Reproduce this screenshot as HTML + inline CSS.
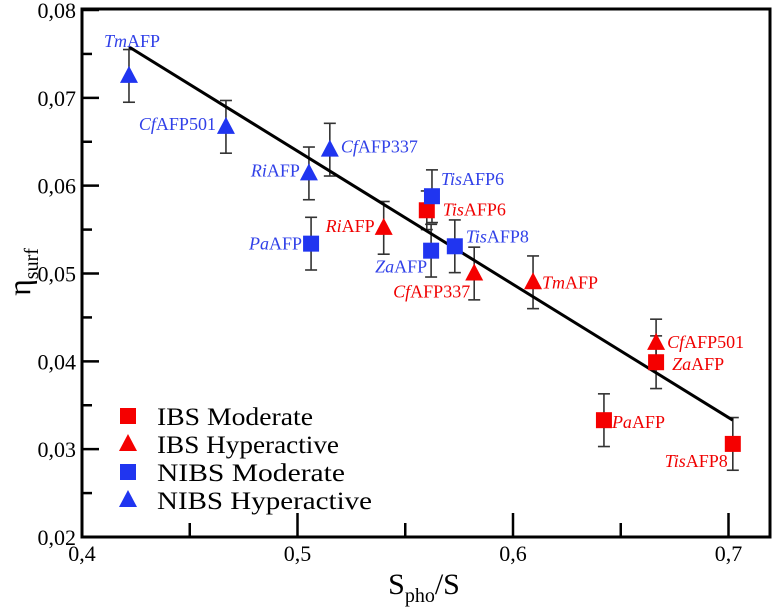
<!DOCTYPE html>
<html><head><meta charset="utf-8"><style>
html,body{margin:0;padding:0;background:#fff;}
svg{display:block;font-family:"Liberation Serif",serif;}
</style></head><body>
<svg id="chart" width="773" height="607" viewBox="0 0 773 607">
<g id="axes"></g>
<g id="marks"></g>
<g id="legend"></g>
</svg>
<script>
const names = ["TmAFP","CfAFP501","CfAFP337","RiAFP","PaAFP","RiAFP","ZaAFP","TisAFP6","TisAFP6","TisAFP8","CfAFP337","TmAFP","CfAFP501","ZaAFP","PaAFP","TisAFP8"];
const prefixes = ["Tm","Cf","Cf","Ri","Pa","Ri","Za","Tis","Tis","Tis","Cf","Tm","Cf","Za","Pa","Tis"];
const groups = ["NIBS Hyperactive","NIBS Hyperactive","NIBS Hyperactive","NIBS Hyperactive","NIBS Moderate","IBS Hyperactive","NIBS Moderate","IBS Moderate","NIBS Moderate","NIBS Moderate","IBS Hyperactive","IBS Hyperactive","IBS Hyperactive","IBS Moderate","IBS Moderate","IBS Moderate"];
const xValues = [0.4218,0.4668,0.515,0.5053,0.5063,0.540,0.562,0.560,0.5624,0.573,0.582,0.6093,0.6664,0.6664,0.6422,0.702];
const yValues = [0.0725,0.0667,0.0641,0.0614,0.0534,0.0552,0.0526,0.0572,0.0588,0.0531,0.0500,0.0490,0.0421,0.0399,0.0333,0.0306];
const yErrors = [0.003,0.003,0.003,0.003,0.003,0.003,0.003,0.0022,0.003,0.003,0.003,0.003,0.0027,0.003,0.003,0.003];
const fitX = [0.4218,0.702];
const fitY = [0.0758,0.0333];
const xTicks = [0.4,0.5,0.6,0.7];
const xTickLabels = ["0,4","0,5","0,6","0,7"];
const yTicks = [0.02,0.03,0.04,0.05,0.06,0.07,0.08];
const yTickLabels = ["0,02","0,03","0,04","0,05","0,06","0,07","0,08"];
const legendLabels = ["IBS Moderate","IBS Hyperactive","NIBS Moderate","NIBS Hyperactive"];
const legendWidths = [156,182,188,215];

const labelPos = [[-25,-29,"start"],[-10,3,"end"],[11,3,"start"],[-9,3,"end"],[-9,6,"end"],[-9,4,"end"],[-4,22,"end"],[16,5,"start"],[9,-11,"start"],[11,-4,"start"],[-4,24,"end"],[9,6,"start"],[11,5,"start"],[16,8,"start"],[8,8,"start"],[-5,23,"end"]];

const L=82,R=770,T=9,B=537;
const xs=v=>82+(v-0.4)*2155;
const ys=v=>537-(v-0.02)*8783;
const NS="http://www.w3.org/2000/svg";
function mk(tag,attrs,parent){const e=document.createElementNS(NS,tag);for(const k in attrs)e.setAttribute(k,attrs[k]);parent.appendChild(e);return e;}
const axes=document.getElementById('axes'),marks=document.getElementById('marks'),legend=document.getElementById('legend');

const frame=mk('rect',{x:L,y:T,width:R-L,height:B-T,fill:'none',stroke:'#000','stroke-width':3},axes);


for(let v=0.4;v<=0.7001;v+=0.05){const x=xs(v);const major=Math.abs(v*10-Math.round(v*10))<1e-6;
 const t=mk('line',{x1:x,x2:x,y1:B,y2:B-(major?24:14),stroke:'#000','stroke-width':2.5},axes);
 
 }
xTicks.forEach((v,i)=>{const t=mk('text',{x:xs(v),y:561,'text-anchor':'middle','font-size':22},axes);t.textContent=xTickLabels[i];
 
 });
for(let k=0;k<=12;k++){const v=0.02+k*0.005;const y=ys(v);const major=k%2==0;
 const t=mk('line',{x1:L,x2:L+(major?17:10),y1:y,y2:y,stroke:'#000','stroke-width':2.5},axes);
 
 }
yTicks.forEach((v,i)=>{const t=mk('text',{x:76,y:ys(v)+8,'text-anchor':'end','font-size':22},axes);t.textContent=yTickLabels[i];
 
 });
const xt=mk('text',{x:424,y:594,'text-anchor':'middle','font-size':30},axes);
xt.innerHTML='S<tspan font-size="20" dy="8">pho</tspan><tspan dy="-8">/S</tspan>';


const yt=mk('text',{transform:'translate(30,272) rotate(-90)','text-anchor':'middle','font-size':32},axes);
yt.innerHTML='η<tspan font-size="20" dy="8">surf</tspan>';



const RED='#f50000',BLUE='#2035f0';
function marker(g,x,y,type,color,parent){
 if(type==='sq') return mk('rect',{x:x-8,y:y-8,width:16,height:16,fill:color},parent);
 return mk('polygon',{points:`${x},${y-10} ${x+9},${y+7} ${x-9},${y+7}`,fill:color},parent);}

xValues.forEach((xv,i)=>{const x=xs(xv),y1=ys(yValues[i]+yErrors[i]),y2=ys(yValues[i]-yErrors[i]);
 const g=mk('g',{stroke:'#333','stroke-width':1.6},marks);
 
 
 mk('line',{x1:x,x2:x,y1:y1,y2:y2},g);mk('line',{x1:x-6,x2:x+6,y1:y1,y2:y1},g);mk('line',{x1:x-6,x2:x+6,y1:y2,y2:y2},g);});
const fl=mk('line',{x1:xs(fitX[0]),y1:ys(fitY[0]),x2:xs(fitX[1]),y2:ys(fitY[1]),stroke:'#000','stroke-width':3},marks);


xValues.forEach((xv,i)=>{const gp=groups[i];const color=gp.startsWith('IBS')?RED:BLUE;const type=gp.endsWith('Moderate')?'sq':'tri';
 const x=xs(xv),y=ys(yValues[i]);
 const m=marker(gp,x,y,type,color,marks);
 
 
 const p=labelPos[i];
 const t=mk('text',{x:x+p[0],y:y+p[1],'text-anchor':p[2],'font-size':18,fill:color==RED?'#f00000':'#3040e8'},marks);
 t.innerHTML='<tspan font-style="italic">'+prefixes[i]+'</tspan>'+names[i].slice(prefixes[i].length);
 
 });
legendLabels.forEach((lab,i)=>{const y=416+i*28;const color=lab.startsWith('IBS')?RED:BLUE;const type=lab.endsWith('Moderate')?'sq':'tri';
 const g=mk('g',{},legend);
 
 
 marker(lab,128,y,type,color,g);
 const t=mk('text',{x:157,y:y+9,'font-size':25,textLength:legendWidths[i],lengthAdjust:'spacingAndGlyphs'},g);t.textContent=lab;});
</script>
</body></html>
